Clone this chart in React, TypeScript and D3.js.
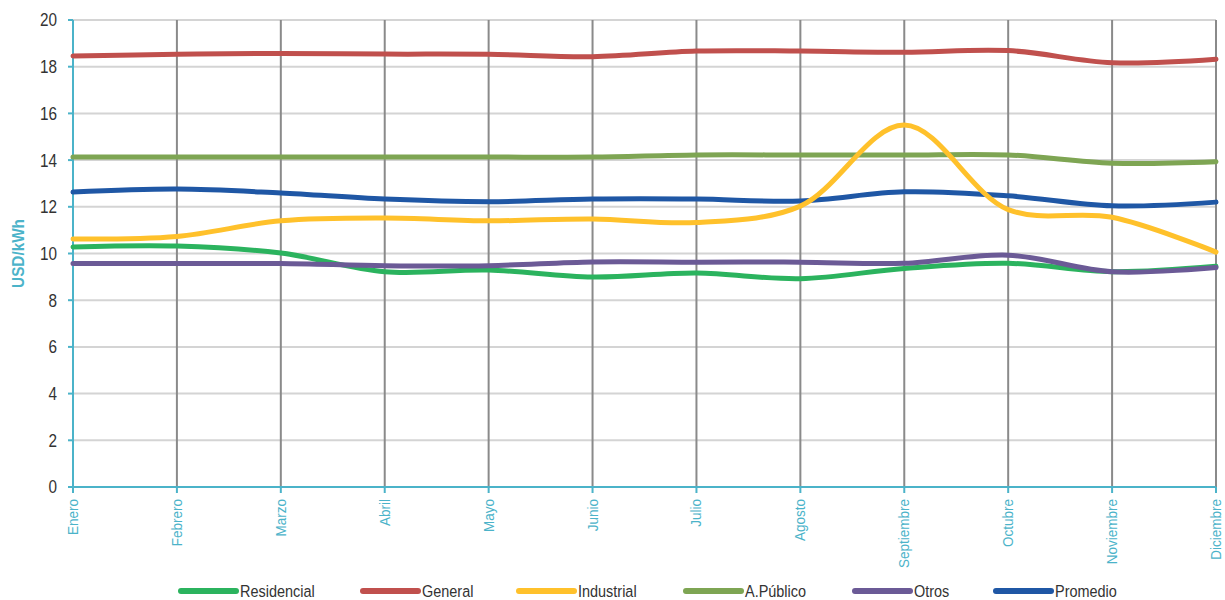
import React from "react";
import * as d3 from "d3";

const months = ["Enero","Febrero","Marzo","Abril","Mayo","Junio","Julio","Agosto","Septiembre","Octubre","Noviembre","Diciembre"];
const residencial = [10.28,10.32,10.02,9.22,9.29,8.99,9.16,8.92,9.36,9.58,9.22,9.45];
const general = [18.46,18.53,18.57,18.54,18.53,18.43,18.67,18.67,18.62,18.69,18.17,18.32];
const industrial = [10.62,10.73,11.4,11.52,11.4,11.48,11.33,12.03,15.5,11.88,11.55,10.06];
const aPublico = [14.13,14.13,14.13,14.13,14.13,14.13,14.22,14.22,14.22,14.22,13.87,13.93];
const otros = [9.57,9.57,9.57,9.48,9.48,9.64,9.63,9.63,9.58,9.93,9.22,9.4];
const promedio = [12.63,12.76,12.59,12.33,12.22,12.33,12.33,12.25,12.64,12.47,12.04,12.2];
const yTicks = [0,2,4,6,8,10,12,14,16,18,20];

const seriesNames = ["Residencial","General","Industrial","A.Público","Otros","Promedio"];
const seriesValues = [residencial, general, industrial, aPublico, otros, promedio];
const seriesColors = ["#2bb35e","#c0504d","#ffc12b","#7ea553","#6b5a96","#1f57a5"];
const drawOrder = [3,1,5,0,4,2];

const FONT = "'Liberation Sans Narrow', 'Liberation Sans', Arial, sans-serif";
const TEAL = "#4bb3c9";

export default function App() {
  const W = 1225, H = 600;
  const left = 73, right = 1216, top = 20, bottom = 487;
  const x = d3.scalePoint<string>().domain(months).range([left, right]);
  const y = d3.scaleLinear().domain([0, 20]).range([bottom, top]);
  const line = d3.line<number>()
    .x((_, i) => x(months[i]) as number)
    .y(d => y(d))
    .curve(d3.curveCatmullRom.alpha(0.5));
  const legendX = [181, 363, 519, 686, 855, 996];
  return (
    <svg width={W} height={H} style={{ position: "absolute", left: 0, top: 0, background: "#fff" }} fontFamily={FONT}>
      {yTicks.map(t => (
        <line key={"h" + t} x1={left} x2={right} y1={y(t)} y2={y(t)} stroke="#d4d4d4" strokeWidth={2} />
      ))}
      {months.map(m => (
        <line key={"v" + m} x1={x(m)} x2={x(m)} y1={top} y2={bottom} stroke="#8a8a8a" strokeWidth={2} />
      ))}
      <line x1={left} x2={left} y1={top} y2={bottom} stroke={TEAL} strokeWidth={2} />
      <line x1={left} x2={right} y1={bottom} y2={bottom} stroke={TEAL} strokeWidth={2} />
      {yTicks.map(t => (
        <g key={"yt" + t}>
          <line x1={left - 5} x2={left} y1={y(t)} y2={y(t)} stroke={TEAL} strokeWidth={2} />
          <text transform={`translate(57,${y(t)}) scale(0.85,1)`} dy="0.36em" textAnchor="end" fontSize={18} fill="#333">{t}</text>
        </g>
      ))}
      {months.map(m => (
        <g key={"xt" + m}>
          <line x1={x(m)} x2={x(m)} y1={bottom} y2={bottom + 6} stroke={TEAL} strokeWidth={2} />
          <text transform={`translate(${(x(m) as number) + 5},${bottom + 12}) rotate(-90) scale(0.9,1)`} textAnchor="end" fontSize={15} fill={TEAL}>{m}</text>
        </g>
      ))}
      <text transform={`translate(24,${(top + bottom) / 2}) rotate(-90) scale(0.9,1)`} textAnchor="middle" fontSize={17} fontWeight="bold" fill={TEAL}>USD/kWh</text>
      {drawOrder.map(i => (
        <path key={"s" + i} d={line(seriesValues[i]) || ""} fill="none" stroke={seriesColors[i]} strokeWidth={5} strokeLinecap="round" />
      ))}
      {seriesNames.map((n, i) => (
        <g key={"lg" + n}>
          <line x1={legendX[i]} x2={legendX[i] + 55} y1={591} y2={591} stroke={seriesColors[i]} strokeWidth={6} strokeLinecap="round" />
          <text transform={`translate(${legendX[i] + 59},591) scale(0.85,1)`} dy="0.35em" fontSize={17} fill="#333">{n}</text>
        </g>
      ))}
    </svg>
  );
}
